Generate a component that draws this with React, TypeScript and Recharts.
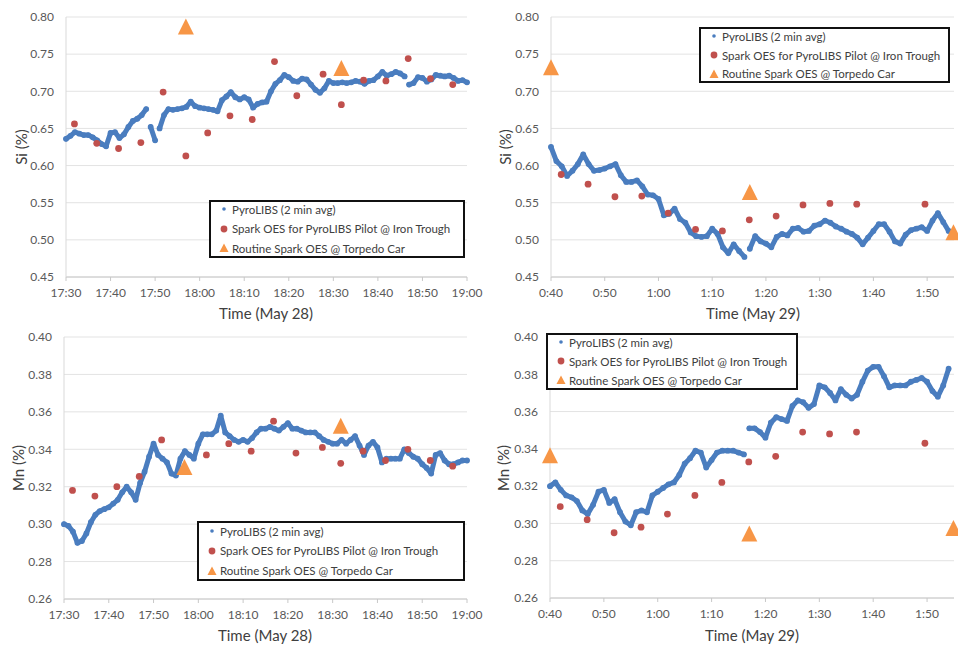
import { CartesianGrid, Scatter, ScatterChart, XAxis, YAxis } from 'recharts';

// PyroLIBS 2-min averages, one reading per minute from the start of the window
const SI_MAY28 = [
  0.636, 0.640, 0.645, 0.643, 0.641, 0.641, 0.638, 0.634, 0.629, 0.626,
  0.644, 0.645, 0.637, 0.642, 0.652, 0.660, 0.663, 0.668, 0.676, 0.652,
  0.634, 0.650, 0.668, 0.676, 0.675, 0.676, 0.677, 0.679, 0.686, 0.680,
  0.678, 0.677, 0.676, 0.675, 0.673, 0.688, 0.693, 0.699, 0.692, 0.689,
  0.692, 0.689, 0.678, 0.683, 0.685, 0.686, 0.700, 0.710, 0.715, 0.722,
  0.719, 0.714, 0.713, 0.717, 0.716, 0.709, 0.702, 0.698, 0.704, 0.714,
  0.711, 0.711, 0.712, 0.711, 0.712, 0.714, 0.713, 0.710, 0.714, 0.715,
  0.720, 0.726, 0.721, 0.723, 0.726, 0.724, 0.720, 0.709, 0.711, 0.719,
  0.718, 0.713, 0.716, 0.722, 0.721, 0.720, 0.721, 0.718, 0.714, 0.715,
  0.712,
];
const MN_MAY28 = [
  0.300, 0.299, 0.296, 0.290, 0.291, 0.295, 0.301, 0.305, 0.307, 0.308,
  0.309, 0.311, 0.313, 0.317, 0.320, 0.317, 0.313, 0.322, 0.328, 0.336,
  0.343, 0.337, 0.335, 0.333, 0.327, 0.326, 0.335, 0.339, 0.337, 0.335,
  0.343, 0.348, 0.348, 0.348, 0.350, 0.358, 0.349, 0.347, 0.345, 0.344,
  0.345, 0.344, 0.346, 0.349, 0.351, 0.351, 0.352, 0.351, 0.350, 0.352,
  0.354, 0.351, 0.351, 0.350, 0.349, 0.349, 0.349, 0.347, 0.345, 0.344,
  0.343, 0.343, 0.345, 0.343, 0.345, 0.347, 0.342, 0.337, 0.342, 0.344,
  0.341, 0.333, 0.335, 0.335, 0.335, 0.335, 0.340, 0.338, 0.336, 0.335,
  0.332, 0.330, 0.327, 0.337, 0.338, 0.334, 0.332, 0.332, 0.333, 0.334,
  0.334,
];
const SI_MAY29 = [
  0.625, 0.606, 0.599, 0.586, 0.593, 0.602, 0.615, 0.602, 0.593, 0.594,
  0.596, 0.599, 0.602, 0.587, 0.578, 0.578, 0.580, 0.572, 0.561, 0.560,
  0.555, 0.533, 0.535, 0.542, 0.528, 0.523, 0.510, 0.505, 0.504, 0.505,
  0.515, 0.508, 0.490, 0.482, 0.494, 0.485, 0.477, 0.488, 0.505, 0.498,
  0.495, 0.490, 0.504, 0.508, 0.506, 0.515, 0.516, 0.511, 0.512, 0.519,
  0.521, 0.526, 0.523, 0.518, 0.515, 0.511, 0.508, 0.503, 0.494, 0.503,
  0.512, 0.521, 0.521, 0.511, 0.498, 0.495, 0.507, 0.513, 0.515, 0.517,
  0.512, 0.526, 0.536, 0.524, 0.512,
];
const MN_MAY29 = [
  0.320, 0.322, 0.318, 0.315, 0.314, 0.312, 0.307, 0.305, 0.310, 0.317,
  0.318, 0.311, 0.313, 0.306, 0.301, 0.299, 0.306, 0.307, 0.306, 0.315,
  0.317, 0.319, 0.321, 0.322, 0.326, 0.332, 0.335, 0.339, 0.338, 0.330,
  0.334, 0.338, 0.339, 0.339, 0.339, 0.338, 0.337, 0.351, 0.351, 0.349,
  0.346, 0.354, 0.357, 0.356, 0.355, 0.363, 0.366, 0.365, 0.362, 0.364,
  0.374, 0.373, 0.370, 0.366, 0.372, 0.369, 0.367, 0.369, 0.376, 0.382,
  0.384, 0.384, 0.379, 0.373, 0.374, 0.374, 0.374, 0.376, 0.377, 0.378,
  0.376, 0.371, 0.368, 0.374, 0.383,
];
// indices where the PyroLIBS trace restarts after a short gap
const SI_MAY28_BREAKS = [19, 21, 77];
const MN_MAY28_BREAKS: number[] = [];
const SI_MAY29_BREAKS = [37];
const MN_MAY29_BREAKS = [37];

// Spark OES @ iron trough (minutes after window start)
const SPARK_T_MAY28 = [1.9, 6.9, 11.8, 16.8, 21.8, 26.9, 31.8, 36.8, 41.8, 46.8, 51.8, 57.7, 61.8, 66.8, 71.8, 76.8, 81.8, 86.8];
const SPARK_SI_MAY28 = [0.656, 0.630, 0.623, 0.631, 0.699, 0.613, 0.644, 0.667, 0.662, 0.740, 0.694, 0.723, 0.682, 0.715, 0.714, 0.744, 0.717, 0.709];
const SPARK_MN_MAY28 = [0.318, 0.315, 0.320, 0.3255, 0.345, null, 0.337, 0.343, 0.339, 0.355, 0.338, 0.341, 0.3325, 0.339, 0.334, 0.340, 0.334, 0.331];
const SPARK_T_MAY29 = [1.9, 6.9, 11.9, 16.9, 21.8, 26.9, 31.9, 36.9, 41.9, 46.9, 51.9, 56.9, 69.6];
const SPARK_SI_MAY29 = [0.588, 0.575, 0.558, 0.559, 0.536, 0.514, 0.512, 0.527, 0.532, 0.547, 0.549, 0.548, 0.548];
const SPARK_MN_MAY29 = [0.309, 0.302, 0.295, 0.298, 0.305, 0.315, 0.322, 0.333, 0.336, 0.349, 0.348, 0.349, 0.343];

// Routine spark OES @ torpedo car
const TORPEDO_T_MAY28 = [26.9, 61.8];
const TORPEDO_SI_MAY28 = [0.786, 0.730];
const TORPEDO_MN_MAY28 = [0.330, 0.352];
const TORPEDO_T_MAY29 = [0, 37, 74.9];
const TORPEDO_SI_MAY29 = [0.731, 0.563, 0.509];
const TORPEDO_MN_MAY29 = [0.336, 0.294, 0.297];

const TIME_LABELS_MAY28 = ['17:30', '17:40', '17:50', '18:00', '18:10', '18:20', '18:30', '18:40', '18:50', '19:00'];
const TIME_LABELS_MAY29 = ['0:40', '0:50', '1:00', '1:10', '1:20', '1:30', '1:40', '1:50'];
const SI_TICKS = [0.45, 0.5, 0.55, 0.6, 0.65, 0.7, 0.75, 0.8];
const MN_TICKS = [0.26, 0.28, 0.3, 0.32, 0.34, 0.36, 0.38, 0.4];

const BLUE = '#4a7dbf';
const RED = '#c0504d';
const ORANGE = '#f79646';
const FONT = 'Lato, "Open Sans", sans-serif';

type Pt = { t: number; v: number };

// split a per-minute trace into continuous runs
const segments = (vals: number[], breaks: number[]): Pt[][] => {
  const out: Pt[][] = [[]];
  vals.forEach((v, i) => {
    if (breaks.includes(i)) out.push([]);
    out[out.length - 1].push({ t: i, v });
  });
  return out;
};
const paired = (ts: number[], vals: (number | null)[]): Pt[] =>
  ts.flatMap((t, i) => (vals[i] == null ? [] : [{ t, v: vals[i] as number }]));

const BlueDot = (p: any) => <circle cx={p.cx} cy={p.cy} r={2.9} fill={BLUE} />;
const RedDot = (p: any) => <circle cx={p.cx} cy={p.cy} r={3.4} fill={RED} />;
const Tri = (p: any) => (
  <polygon
    points={`${p.cx},${p.cy - 9} ${p.cx - 8},${p.cy + 7} ${p.cx + 8},${p.cy + 7}`}
    fill={ORANGE}
  />
);

interface PanelProps {
  left: number;
  top: number;
  width: number;
  height: number;
  yAxisWidth: number;
  rightMargin: number;
  xAxisHeight: number;
  xMax: number;
  xLabels: string[];
  yTicks: number[];
  blue: Pt[][];
  red: Pt[];
  tri: Pt[];
}

function Panel(p: PanelProps) {
  const xTicks = p.xLabels.map((_, i) => i * 10);
  return (
    <div style={{ position: 'absolute', left: p.left, top: p.top }}>
      <ScatterChart
        width={p.width}
        height={p.height}
        margin={{ top: 17, right: p.rightMargin, bottom: 0, left: 0 }}
      >
        <CartesianGrid vertical={false} stroke="#e3e3e3" />
        <XAxis
          type="number"
          dataKey="t"
          domain={[0, p.xMax]}
          ticks={xTicks}
          tickFormatter={(v: number) => p.xLabels[Math.round(v / 10)] ?? ''}
          height={p.xAxisHeight}
          stroke="#c8c8c8"
          tickSize={4}
          tickMargin={7}
          tick={{ fontSize: 12, fill: '#595959', fontFamily: FONT }}
        />
        <YAxis
          type="number"
          dataKey="v"
          domain={[p.yTicks[0], p.yTicks[p.yTicks.length - 1]]}
          ticks={p.yTicks}
          tickFormatter={(v: number) => v.toFixed(2)}
          width={p.yAxisWidth}
          stroke="#d9d9d9"
          tickLine={false}
          tickSize={0}
          tickMargin={12}
          tick={{ fontSize: 12, fill: '#595959', fontFamily: FONT }}
        />
        {p.blue.map((seg, i) => (
          <Scatter
            key={`b${i}`}
            data={seg}
            shape={BlueDot}
            line={{ stroke: BLUE, strokeWidth: 5, strokeLinejoin: 'round', strokeLinecap: 'round' }}
            lineType="joint"
            isAnimationActive={false}
          />
        ))}
        <Scatter data={p.red} shape={RedDot} isAnimationActive={false} />
        <Scatter data={p.tri} shape={Tri} isAnimationActive={false} />
      </ScatterChart>
    </div>
  );
}

function LegendBox({ left, top, width, height, first, gap }: { left: number; top: number; width: number; height: number; first: number; gap: number }) {
  const items = [
    { label: 'PyroLIBS (2 min avg)', mark: <circle cx={5} cy={5} r={1.8} fill={BLUE} /> },
    { label: 'Spark OES for PyroLIBS Pilot @ Iron Trough', mark: <circle cx={5} cy={5} r={3.4} fill={RED} /> },
    { label: 'Routine Spark OES @ Torpedo Car', mark: <polygon points="5,0.5 0.5,9 9.5,9" fill={ORANGE} /> },
  ];
  return (
    <div
      style={{
        position: 'absolute',
        left,
        top,
        width,
        height,
        boxSizing: 'border-box',
        border: '2px solid #111',
        background: '#fff',
        fontFamily: FONT,
        fontSize: 11.5,
        color: '#404040',
      }}
    >
      {items.map((it, i) => (
        <div
          key={it.label}
          style={{
            position: 'absolute',
            left: 8,
            top: first + i * gap - 2 - 8,
            height: 16,
            display: 'flex',
            alignItems: 'center',
            whiteSpace: 'nowrap',
          }}
        >
          <svg width={10} height={10} style={{ marginRight: 3 }}>
            {it.mark}
          </svg>
          {it.label}
        </div>
      ))}
    </div>
  );
}

function AxisTitle({ x, y, text, rotate }: { x: number; y: number; text: string; rotate?: boolean }) {
  return (
    <div
      style={{
        position: 'absolute',
        left: x,
        top: y,
        transform: `translate(-50%, -50%)${rotate ? ' rotate(-90deg)' : ''}`,
        fontFamily: FONT,
        fontSize: 15,
        color: '#404040',
        whiteSpace: 'nowrap',
      }}
    >
      {text}
    </div>
  );
}

export default function App() {
  return (
    <div style={{ position: 'absolute', left: 0, top: 0, width: 958, height: 645, background: '#fff', overflow: 'hidden' }}>
      <Panel
        left={479}
        top={0}
        width={479}
        height={320}
        yAxisWidth={72}
        rightMargin={4}
        xAxisHeight={43}
        xMax={75}
        xLabels={TIME_LABELS_MAY29}
        yTicks={SI_TICKS}
        blue={segments(SI_MAY29, SI_MAY29_BREAKS)}
        red={paired(SPARK_T_MAY29, SPARK_SI_MAY29)}
        tri={paired(TORPEDO_T_MAY29, TORPEDO_SI_MAY29)}
      />
      <Panel
        left={479}
        top={320}
        width={479}
        height={325}
        yAxisWidth={71}
        rightMargin={4}
        xAxisHeight={47}
        xMax={75}
        xLabels={TIME_LABELS_MAY29}
        yTicks={MN_TICKS}
        blue={segments(MN_MAY29, MN_MAY29_BREAKS)}
        red={paired(SPARK_T_MAY29, SPARK_MN_MAY29)}
        tri={paired(TORPEDO_T_MAY29, TORPEDO_MN_MAY29)}
      />
      <Panel
        left={0}
        top={0}
        width={495}
        height={320}
        yAxisWidth={66}
        rightMargin={28}
        xAxisHeight={43}
        xMax={90}
        xLabels={TIME_LABELS_MAY28}
        yTicks={SI_TICKS}
        blue={segments(SI_MAY28, SI_MAY28_BREAKS)}
        red={paired(SPARK_T_MAY28, SPARK_SI_MAY28)}
        tri={paired(TORPEDO_T_MAY28, TORPEDO_SI_MAY28)}
      />
      <Panel
        left={0}
        top={320}
        width={495}
        height={325}
        yAxisWidth={64}
        rightMargin={28}
        xAxisHeight={46}
        xMax={90}
        xLabels={TIME_LABELS_MAY28}
        yTicks={MN_TICKS}
        blue={segments(MN_MAY28, MN_MAY28_BREAKS)}
        red={paired(SPARK_T_MAY28, SPARK_MN_MAY28)}
        tri={paired(TORPEDO_T_MAY28, TORPEDO_MN_MAY28)}
      />

      <LegendBox left={209} top={200} width={256} height={58} first={9} gap={19.5} />
      <LegendBox left={699} top={27} width={251} height={56} first={9.4} gap={18.7} />
      <LegendBox left={197} top={521} width={268} height={60} first={10} gap={19.8} />
      <LegendBox left={546} top={333} width={252} height={57} first={9.4} gap={18.8} />

      <AxisTitle x={21} y={147} text="Si (%)" rotate />
      <AxisTitle x={505} y={147} text="Si (%)" rotate />
      <AxisTitle x={18} y={468} text="Mn (%)" rotate />
      <AxisTitle x={503} y={468} text="Mn (%)" rotate />
      <AxisTitle x={266} y={313} text="Time (May 28)" />
      <AxisTitle x={753} y={313} text="Time (May 29)" />
      <AxisTitle x={265} y={635} text="Time (May 28)" />
      <AxisTitle x={752} y={635} text="Time (May 29)" />
    </div>
  );
}
